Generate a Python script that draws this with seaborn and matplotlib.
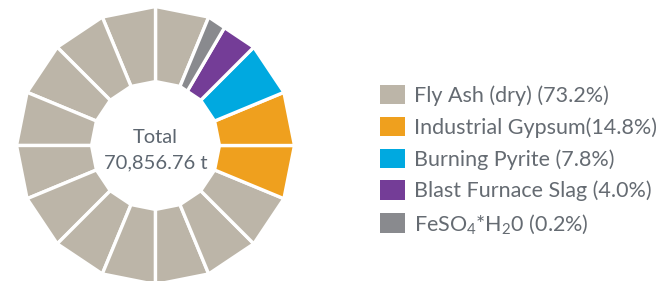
import numpy as np
import matplotlib
matplotlib.use("Agg")
import matplotlib.pyplot as plt
import seaborn as sns
from matplotlib.patches import Polygon, Patch

categories = ['Fly Ash (dry)', 'Industrial Gypsum', 'Burning Pyrite',
              'Blast Furnace Slag', r'FeSO$_4$*H$_2$0']
legend_labels = ['Fly Ash (dry) (73.2%)', 'Industrial Gypsum(14.8%)',
                 'Burning Pyrite (7.8%)', 'Blast Furnace Slag (4.0%)',
                 r'FeSO$_4$*H$_2$0 (0.2%)']
shares = [73.2, 14.8, 7.8, 4.0, 0.2]
# the ring is drawn as 16 blocks; how many blocks each material gets in the picture
blocks = [12, 2, 1, 0.65, 0.35]
colors = ['#bcb5a8', '#efa01e', '#00a9e0', '#743d97', '#898a8e']
total_text = ['Total', '70,856.76 t']

N_BLOCKS = 16
START = 67.5  # degrees, counterclockwise from there
R_OUT, R_IN = 1.0, 0.46

sns.set_style("white")
plt.rcParams['font.family'] = ['Lato', 'DejaVu Sans']
plt.rcParams['mathtext.fontset'] = 'custom'
plt.rcParams['mathtext.rm'] = 'Lato'
plt.rcParams['mathtext.it'] = 'Lato'

fig = plt.figure(figsize=(6.66, 2.81), dpi=100)

# donut axes, sized in pixels of the 666x281 canvas
r_px = 139
cx, cy = 155.5, 281 - 145.5
ax = fig.add_axes([(cx - r_px) / 666, (cy - r_px) / 281, 2 * r_px / 666, 2 * r_px / 281])
ax.set_xlim(-1, 1)
ax.set_ylim(-1, 1)
ax.set_aspect('equal')
ax.axis('off')


def chord_point(pos, cell, r):
    # point on the straight outer/inner edge of a block
    f = pos - cell
    a0 = np.deg2rad(START + 360 / N_BLOCKS * cell)
    a1 = np.deg2rad(START + 360 / N_BLOCKS * (cell + 1))
    p0 = np.array([np.cos(a0), np.sin(a0)]) * r
    p1 = np.array([np.cos(a1), np.sin(a1)]) * r
    return (1 - f) * p0 + f * p1


pos = 0.0
for n, col in zip(blocks, colors):
    end = pos + n
    a = pos
    while a < end - 1e-9:
        cell = int(np.floor(a + 1e-9))
        b = min(end, cell + 1)
        verts = [chord_point(a, cell, R_OUT), chord_point(b, cell, R_OUT),
                 chord_point(b, cell, R_IN), chord_point(a, cell, R_IN)]
        ax.add_patch(Polygon(verts, closed=True, facecolor=col,
                             edgecolor='white', linewidth=2.4, joinstyle='miter'))
        a = b
    pos = end

txt_col = '#5d6670'
ax.text(0, 0.016, total_text[0], ha='center', va='baseline', fontsize=14.5, color=txt_col)
ax.text(0, -0.164, total_text[1], ha='center', va='baseline', fontsize=14.5, color=txt_col)

handles = [Patch(facecolor=c, edgecolor='none', label=l) for c, l in zip(colors, legend_labels)]
fig.legend(handles=handles, loc='upper left', bbox_to_anchor=(380 / 666, 1 - 85 / 281),
           frameon=False, fontsize=15.5, handlelength=1.15, handleheight=1.0,
           handletextpad=0.45, labelspacing=0.5, borderpad=0, borderaxespad=0,
           labelcolor='#656b72')

fig.savefig('out.png', dpi=100)
